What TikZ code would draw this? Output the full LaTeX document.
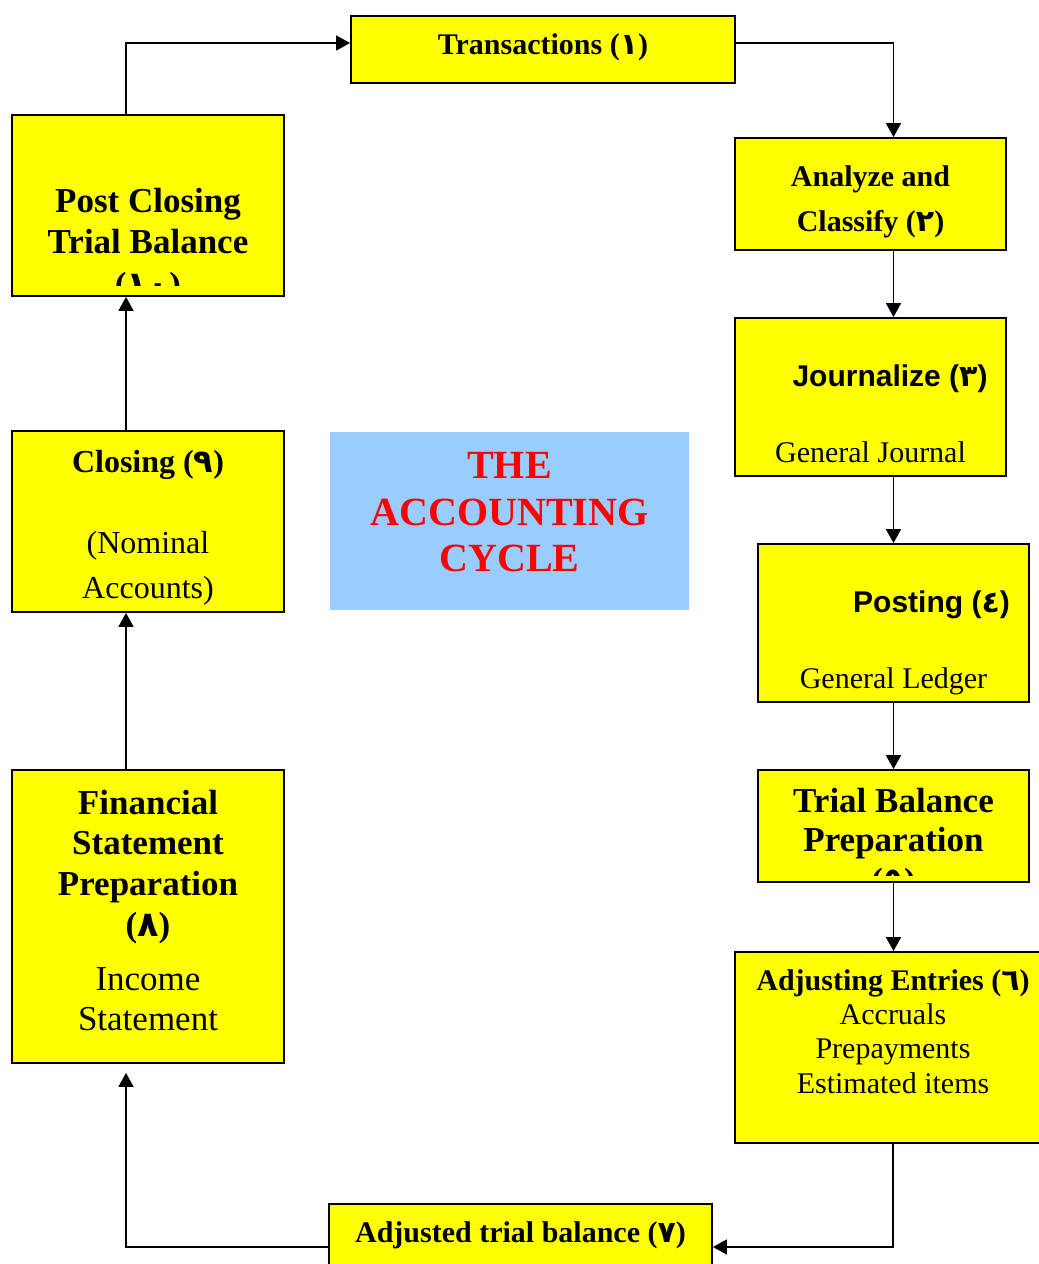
\documentclass[tikz,border=0pt]{standalone}
\usepackage{fontspec}
\setmainfont{Liberation Serif}
\newfontfamily\arialf{Liberation Sans}
\newfontfamily\ar[Script=Arabic]{DejaVu Sans}
\usetikzlibrary{arrows.meta}
\definecolor{boxyellow}{HTML}{FFFF00}
\definecolor{cyclblue}{HTML}{99CCFF}
\definecolor{cyclred}{HTML}{FF0000}
\newcommand{\fsz}[1]{\fontsize{#1}{#1}\selectfont}
\begin{document}
\begin{tikzpicture}[x=1pt,y=-1pt,
  stagebox/.style n args={2}{draw=black, line width=1.8pt, fill=boxyellow, inner sep=0pt,
    minimum width=#1pt, minimum height=#2pt},
  lbl/.style={anchor=base, inner sep=0pt},
  b30/.style={lbl, font=\fsz{30}\bfseries},
  b32/.style={lbl, font=\fsz{32}\bfseries},
  b35/.style={lbl, font=\fsz{35}\bfseries},
  r30/.style={lbl, font=\fsz{30}},
  r32/.style={lbl, font=\fsz{32}},
  r35/.style={lbl, font=\fsz{35}},
  a30/.style={lbl, font=\fsz{30}\arialf\bfseries},
  red40/.style={lbl, font=\fsz{40}\bfseries, text=cyclred},
  arr/.style={draw=black, line width=1.5pt, -{Triangle[width=15pt,length=14pt]}}
]
\useasboundingbox (0,0) rectangle (1039,1264);

% boxes
\node[stagebox={384}{67}]  (trans)   at (543,49.5) {};
\node[stagebox={271}{112}] (analyze) at (870.5,194) {};
\node[stagebox={271}{158}] (journal) at (870.5,397) {};
\node[stagebox={271}{158}] (posting) at (893.5,623) {};
\node[stagebox={271}{112}] (trial)   at (893.5,826) {};
\node[stagebox={316}{191}] (adjust)  at (893,1047.5) {};
\node[stagebox={383}{86}]  (adjtb)   at (520.5,1247) {};
\node[stagebox={272}{293}] (fin)     at (148,916.5) {};
\node[stagebox={272}{181}] (closing) at (148,521.5) {};
\node[stagebox={272}{181}] (post)    at (148,205.5) {};
\node[fill=cyclblue, inner sep=0pt, minimum width=359pt, minimum height=178pt] (cycle) at (509.5,521) {};

% texts
\node[b30] (t1) at (543,54) {Transactions ({\ar ١})};
\node[b30] (t2a) at (870.5,186) {Analyze and};
\node[b30] (t2b) at (870.5,231) {Classify ({\ar ٢})};
\node[a30] (t3a) at (890,386) {Journalize ({\ar ٣})};
\node[r30] (t3b) at (870.5,462) {General Journal};
\node[a30] (t4a) at (931.5,612) {Posting ({\ar ٤})};
\node[r30] (t4b) at (893.5,688) {General Ledger};
\node[b35] (t5a) at (893.5,812) {Trial Balance};
\node[b35] (t5b) at (893.5,851) {Preparation};
\begin{scope}
  \clip (758,770) rectangle (1029,875);
  \node[b35] (t5c) at (893.5,892) {({\ar ٥})};
\end{scope}
\node[b30] (t6a) at (893,990) {Adjusting Entries ({\ar ٦})};
\node[r30] (t6b) at (893,1024) {Accruals};
\node[r30] (t6c) at (893,1058) {Prepayments};
\node[r30] (t6d) at (893,1093) {Estimated items};
\node[b30] (t7) at (520.5,1242) {Adjusted trial balance ({\ar ٧})};
\node[b35] (t8a) at (148,814) {Financial};
\node[b35] (t8b) at (148,854) {Statement};
\node[b35] (t8c) at (148,895) {Preparation};
\node[b35] (t8d) at (148,936) {({\ar ٨})};
\node[r35] (t8e) at (148,990) {Income};
\node[r35] (t8f) at (148,1030) {Statement};
\node[b32] (t9a) at (148,472) {Closing ({\ar ٩})};
\node[r32] (t9b) at (148,553) {(Nominal};
\node[r32] (t9c) at (148,598) {Accounts)};
\node[b35] (t10a) at (148,212) {Post Closing};
\node[b35] (t10b) at (148,253) {Trial Balance};
\begin{scope}
  \clip (12,115) rectangle (284,285);
  \node[b35] (t10c) at (148,296) {({\ar ١٠})};
\end{scope}
\node[red40] (c1) at (509.5,478) {THE};
\node[red40] (c2) at (509.5,525) {ACCOUNTING};
\node[red40] (c3) at (509.5,571) {CYCLE};

% connectors
\draw[arr] ([yshift=6.5pt]trans.east) -| (posting.north |- analyze.north);
\draw[arr] (posting.north |- analyze.south) -- (posting.north |- journal.north);
\draw[arr] (posting.north |- journal.south) -- (posting.north);
\draw[arr] (posting.south) -- (trial.north);
\draw[arr] (trial.south) -- (trial.south |- adjust.north);
\draw[arr] (adjust.south) |- (adjtb.east);
\draw[arr, shorten >=9pt] (adjtb.west) -| ([xshift=-22pt]fin.south);
\draw[arr] ([xshift=-22pt]fin.north) -- ([xshift=-22pt]closing.south);
\draw[arr] ([xshift=-22pt]closing.north) -- ([xshift=-22pt]post.south);
\draw[arr] ([xshift=-22pt]post.north) |- ([yshift=6.5pt]trans.west);
\end{tikzpicture}
\end{document}
